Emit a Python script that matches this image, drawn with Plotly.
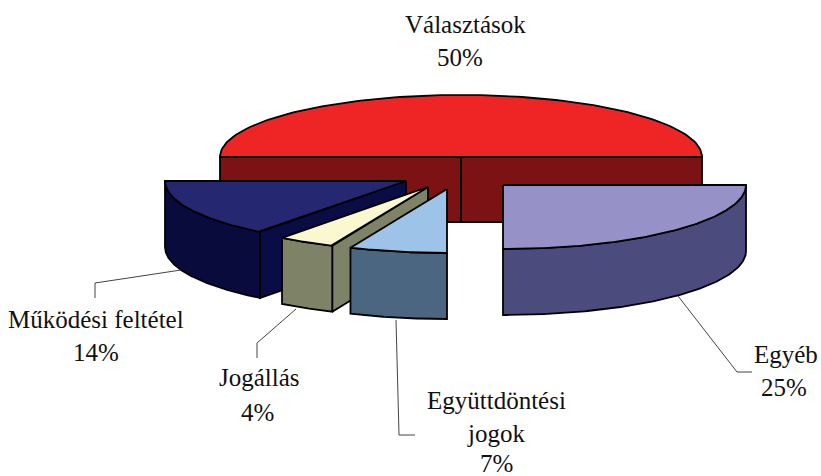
import numpy as np
import plotly.graph_objects as go

# ---- data ----
categories = ["Választások", "Egyéb", "Együttdöntési jogok", "Jogállás", "Működési feltétel"]
values = [50, 25, 7, 4, 14]
label_lines = [["Választások"], ["Egyéb"], ["Együttdöntési", "jogok"], ["Jogállás"], ["Működési feltétel"]]

# ---- layout / style ----
W, H = 821, 476
FIRST_ANGLE = 270.0
FORESHORTEN = 0.92
apex = [(461, 157), (503, 185), (447, 189), (428, 187), (406, 181)]
radii = [(241, 62), (243, 64), (243, 64), (241, 64), (241, 64)]
depth = [65, 66, 66, 66, 66]
top_col = ["#EE2524", "#9691C6", "#9DC3E8", "#FBF8CF", "#252870"]
wall_col = ["#7C1214", "#4B4B7D", "#4A6680", "#7E8266", "#080B3C"]
cut_col = {3: "#7E8266", 4: "#0A0C45"}
draw_order = [0, 4, 3, 2, 1]
EDGE = dict(color="#000000", width=1.8)
label_x = [[465, 460], [786, 784], [496, 496, 496], [259, 257], [96, 96]]
label_y = [[24, 57], [354, 387], [400, 433, 463], [377, 412], [319, 352]]
leaders = [None,
           [(678, 296), (737, 372), (752, 372)],
           [(396, 320), (399, 435), (415, 435)],
           [(296, 309), (257, 343), (257, 358)],
           [(181, 270), (95, 283), (95, 298)]]
FONT = dict(family="Liberation Serif, Times New Roman, serif", size=25, color="#111111")


def project(i, angle_deg, drop=0.0):
    """Clockwise angle from 12 o'clock on the tilted pie -> picture position."""
    th = np.radians(np.asarray(angle_deg, dtype=float) - 180.0)
    t = np.arctan2(FORESHORTEN * np.sin(th), np.cos(th))
    return (apex[i][0] - radii[i][0] * np.sin(t),
            apex[i][1] + radii[i][1] * np.cos(t) + drop)


def poly(fig, xs, ys, fill, line=EDGE):
    fig.add_trace(go.Scatter(x=list(xs), y=list(ys), mode="lines", fill="toself",
                             fillcolor=fill, line=line, hoverinfo="skip", showlegend=False))


total = sum(values)
edges = FIRST_ANGLE + np.cumsum([0] + values) * 360.0 / total

fig = go.Figure()

for i in draw_order:
    a0, a1 = edges[i], edges[i + 1]
    arc = np.linspace(a0, a1, 120)
    cx, cy = apex[i]
    d = depth[i]
    x0, y0 = project(i, arc)
    if i == 0:
        # the half-pie at the back shows its two flat cut faces from the front
        xl, yl = x0[0], y0[0]
        xr, yr = x0[-1], y0[-1]
        poly(fig, [xl, cx, cx, xl, xl], [yl, cy, cy + d, yl + d, yl], wall_col[i])
        poly(fig, [cx, xr, xr, cx, cx], [cy, yr, yr + d, cy + d, cy], wall_col[i])
    else:
        # cut face on the right-hand side of a slice
        if i in cut_col:
            xs, ys = project(i, a0)
            poly(fig, [cx, xs, xs, cx, cx], [cy, ys, ys + d, cy + d, cy], cut_col[i])
        # outer rim
        xb, yb = project(i, arc, d)
        poly(fig, np.r_[x0, xb[::-1], x0[0]], np.r_[y0, yb[::-1], y0[0]], wall_col[i])
    # top face
    poly(fig, np.r_[cx, x0, cx], np.r_[cy, y0, cy], top_col[i])

# leader lines
for pts in leaders:
    if pts:
        fig.add_trace(go.Scatter(x=[p[0] for p in pts], y=[p[1] for p in pts], mode="lines",
                                 line=dict(color="#444444", width=1), hoverinfo="skip", showlegend=False))

# labels
for i, lines in enumerate(label_lines):
    rows = lines + [f"{values[i]}%"]
    for txt, xx, yy in zip(rows, label_x[i], label_y[i]):
        fig.add_annotation(x=xx, y=yy, text=txt, showarrow=False, font=FONT,
                           xanchor="center", yanchor="middle")

fig.update_layout(
    width=W, height=H, margin=dict(l=0, r=0, t=0, b=0),
    paper_bgcolor="white", plot_bgcolor="white", showlegend=False,
    xaxis=dict(range=[0, W], visible=False, fixedrange=True),
    yaxis=dict(range=[H, 0], visible=False, fixedrange=True),
)
fig.write_html("out.html", config=dict(displayModeBar=False),
               post_script="document.body.style.margin='0';document.body.style.overflow='hidden';")
